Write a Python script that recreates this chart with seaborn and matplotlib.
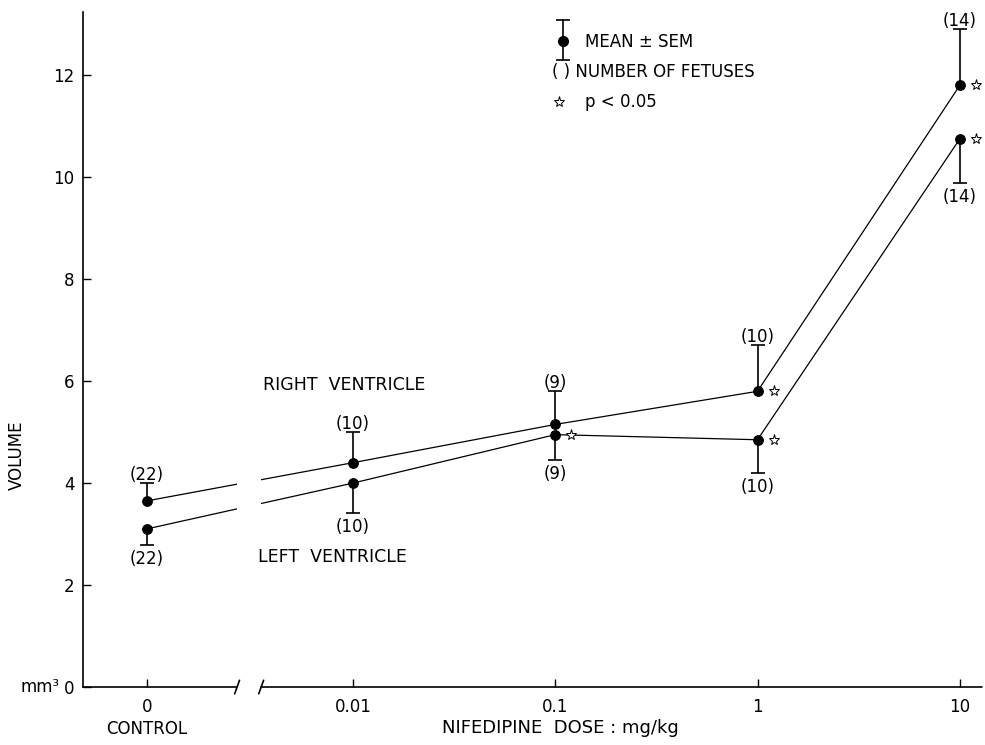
import numpy as np
import pandas as pd
import matplotlib
matplotlib.use("Agg")
import matplotlib.pyplot as plt
import matplotlib.transforms as mtransforms
import seaborn as sns

# Nifedipine dose groups (mg/kg); "0" is the control group
doses = ["0", "0.01", "0.1", "1", "10"]
dose_values = [0.0, 0.01, 0.1, 1.0, 10.0]

# Right ventricle volume (mm^3): mean and SEM
rv_mean = [3.65, 4.40, 5.15, 5.80, 11.80]
rv_sem = [0.35, 0.60, 0.65, 0.90, 1.10]
# Left ventricle volume (mm^3): mean and SEM
lv_mean = [3.10, 4.00, 4.95, 4.85, 10.75]
lv_sem = [0.32, 0.58, 0.50, 0.65, 0.87]

# Number of fetuses per group
n_rv = [22, 10, 9, 10, 14]
n_lv = [22, 10, 9, 10, 14]

# p < 0.05 versus control
sig_rv = [False, False, False, True, True]
sig_lv = [False, False, True, True, True]

# Dose axis: log10 spacing, control placed one decade left of the lowest dose
CONTROL_POS = -3.02
pos = [CONTROL_POS if d == 0 else np.log10(d) for d in dose_values]

df = pd.DataFrame({
    "pos": pos * 2,
    "volume": rv_mean + lv_mean,
    "ventricle": ["right"] * len(pos) + ["left"] * len(pos),
})

sns.set_style("ticks")
plt.rcParams["font.family"] = ["DejaVu Sans"]
plt.rcParams["font.size"] = 12
plt.rcParams["text.color"] = "black"

fig = plt.figure(figsize=(9.85, 7.45), dpi=100)
ax = fig.add_axes([83 / 985, 58 / 745, 899 / 985, 675 / 745])

sns.lineplot(data=df, x="pos", y="volume", hue="ventricle",
             palette={"right": "black", "left": "black"},
             linewidth=0.9, marker="o", markersize=7,
             markeredgecolor="black", legend=False, ax=ax, zorder=3)

# one-sided SEM bars: up for right ventricle, down for left ventricle
rv_top = np.array(rv_mean) + np.array(rv_sem)
lv_bot = np.array(lv_mean) - np.array(lv_sem)
ax.vlines(pos, rv_mean, rv_top, color="black", lw=1.2, zorder=3)
ax.vlines(pos, lv_bot, lv_mean, color="black", lw=1.2, zorder=3)
ax.plot(pos, rv_top, ls="none", marker="_", ms=10, mew=1.2, color="black",
        zorder=3)
ax.plot(pos, lv_bot, ls="none", marker="_", ms=10, mew=1.2, color="black",
        zorder=3)

xmin, xmax = -3.335, 1.11
ymin, ymax = 0, 13.24
ax.set_xlim(xmin, xmax)
ax.set_ylim(ymin, ymax)

# axis break between control and the dose scale
brk_a, brk_b = -2.573, -2.454
ax.axvspan(brk_a, brk_b, color="white", zorder=4, lw=0)
xt = ax.get_xaxis_transform()
ax.plot([xmin, brk_a], [0, 0], color="black", lw=1.2, transform=xt,
        clip_on=False, zorder=6)
ax.plot([brk_b, xmax], [0, 0], color="black", lw=1.2, transform=xt,
        clip_on=False, zorder=6)
for bx in (brk_a, brk_b):
    ax.plot([bx - 0.012, bx + 0.012], [-0.01, 0.01], color="black", lw=1.2,
            transform=xt, clip_on=False, zorder=6)

sns.despine(ax=ax, top=True, right=True, bottom=True)
ax.spines["left"].set_linewidth(1.2)
ax.spines["left"].set_color("black")

ax.set_xticks(pos)
ax.set_xticklabels(doses)
ax.set_yticks(np.arange(0, 13, 2))
ax.tick_params(axis="both", direction="in", length=6, width=1.0,
               labelsize=12, colors="black")
ax.tick_params(axis="x", pad=8)
ax.tick_params(axis="y", pad=6)
ax.set_xlabel("")
ax.set_ylabel("")

# group size labels
top_off = mtransforms.offset_copy(ax.transData, fig=fig, x=0, y=8, units="dots")
bot_off = mtransforms.offset_copy(ax.transData, fig=fig, x=0, y=-14, units="dots")
for x, t, n in zip(pos, rv_top, n_rv):
    ax.text(x, t, f"({n})", transform=top_off, ha="center", va="center",
            fontsize=12, zorder=7)
for x, b, n in zip(pos, lv_bot, n_lv):
    ax.text(x, b, f"({n})", transform=bot_off, ha="center", va="center",
            fontsize=12, zorder=7)

# significance stars
star_off = mtransforms.offset_copy(ax.transData, fig=fig, x=16, y=0, units="dots")
for x, m, flag in zip(pos, rv_mean, sig_rv):
    if flag:
        ax.plot(x, m, marker="*", ms=8, mfc="white", mec="black", mew=0.7,
                transform=star_off, clip_on=False, zorder=5)
for x, m, flag in zip(pos, lv_mean, sig_lv):
    if flag:
        ax.plot(x, m, marker="*", ms=8, mfc="white", mec="black", mew=0.7,
                transform=star_off, clip_on=False, zorder=5)

# series names
ax.text(-2.445, 5.92, "RIGHT  VENTRICLE", ha="left", va="center", fontsize=12.5,
        zorder=7)
ax.text(-2.47, 2.55, "LEFT  VENTRICLE", ha="left", va="center", fontsize=12.5,
        zorder=7)

# key
ta = ax.transAxes
ax.plot([0.534, 0.534], [0.929, 0.988], color="black", lw=1.2, transform=ta,
        clip_on=False)
ax.plot([0.534, 0.534], [0.929, 0.988], ls="none", marker="_", ms=10,
        mew=1.2, color="black", transform=ta, clip_on=False)
ax.plot(0.534, 0.957, marker="o", ms=7, color="black", transform=ta,
        clip_on=False)
ax.text(0.558, 0.956, "MEAN ± SEM", transform=ta, ha="left", va="center",
        fontsize=12)
ax.text(0.522, 0.911, "( ) NUMBER OF FETUSES", transform=ta, ha="left",
        va="center", fontsize=12)
ax.plot(0.529, 0.867, marker="*", ms=8, mfc="white", mec="black", mew=0.7,
        transform=ta, clip_on=False)
ax.text(0.558, 0.867, "p < 0.05", transform=ta, ha="left", va="center",
        fontsize=12)

# axis titles
fig.text(17 / 985, 1 - 455 / 745, "VOLUME", rotation=90, ha="center",
         va="center", fontsize=12)
fig.text(40 / 985, 1 - 687 / 745, "mm³", ha="center", va="center", fontsize=12)
fig.text(560 / 985, 1 - 728 / 745, "NIFEDIPINE  DOSE : mg/kg", ha="center",
         va="center", fontsize=13)
ax.text(CONTROL_POS, -0.062, "CONTROL", transform=xt, ha="center",
        va="center", fontsize=12)

fig.savefig("out.png", dpi=100, facecolor="white")
